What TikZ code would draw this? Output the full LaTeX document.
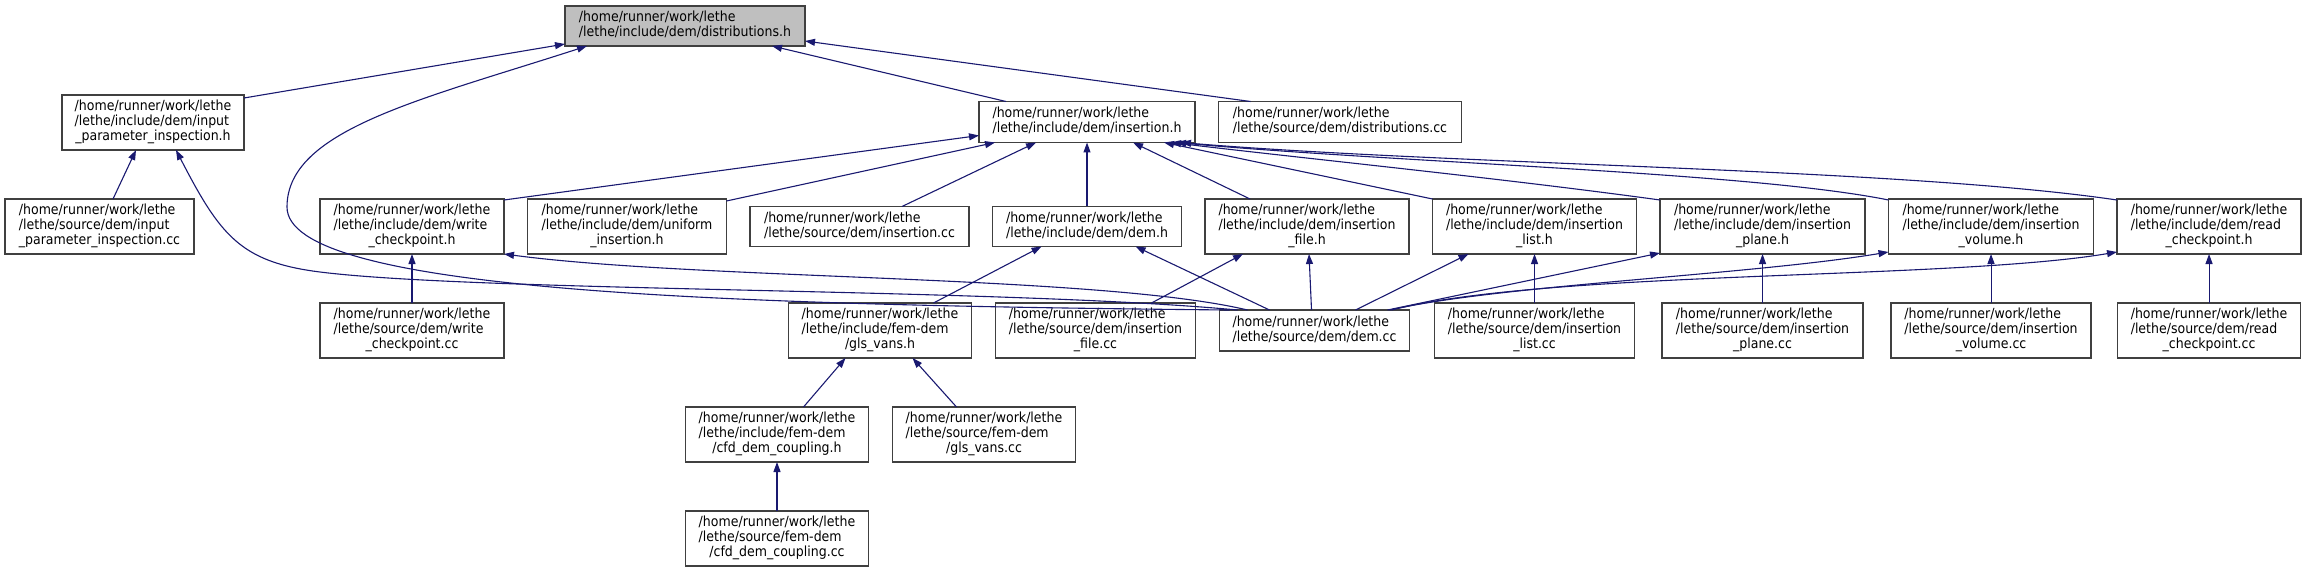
\documentclass[tikz,border=0pt]{standalone}
\usepackage{fontspec}
\newfontfamily\doxfont{DejaVu Sans Condensed}
\usepackage{tikz}
\usetikzlibrary{arrows.meta, positioning}

\definecolor{edgeblue}{RGB}{25,25,112}
\definecolor{rootgray}{RGB}{191,191,191}

% file labels: two lines, or three lines with the last one centred
\newcommand{\twoln}[2]{\begin{tabular}{@{}l@{}}#1\\#2\end{tabular}}
\newcommand{\threeln}[3]{\begin{tabular}{@{}l@{}}#1\\#2\\\multicolumn{1}{@{}c@{}}{#3}\end{tabular}}

\begin{document}
\begin{tikzpicture}[
    x=1bp, y=-1bp,
    node distance=49bp and 23.5bp,
    file/.style={rectangle, draw=black!75, line width=1.2bp, fill=white, inner sep=0pt, outer sep=0pt, minimum height=55bp, font=\doxfont\fontsize{14}{15}\selectfont},
    short/.style={file, minimum height=41bp},
    root/.style={short, fill=rootgray, minimum height=40bp},
    incl/.style={-{Triangle[length=10bp, width=7bp]}, draw=edgeblue, line width=1.1bp}
]
\useasboundingbox (0,0) rectangle (2306,572);

\node[root, minimum width=240bp] (disth) at (685,26) {\twoln{/home/runner/work/lethe}{/lethe/include/dem/distributions.h}};

% third row, left to right
\node[file, minimum width=189bp] (ipicc) at (99.5,226.5) {\threeln{/home/runner/work/lethe}{/lethe/source/dem/input}{\_parameter\_inspection.cc}};
\node[file, minimum width=184bp, right=126bp of ipicc] (wrh) {\threeln{/home/runner/work/lethe}{/lethe/include/dem/write}{\_checkpoint.h}};
\node[file, minimum width=199bp, right=of wrh] (unih) {\threeln{/home/runner/work/lethe}{/lethe/include/dem/uniform}{\_insertion.h}};
\node[short, minimum width=219bp, minimum height=40bp, right=of unih] (inscc) {\twoln{/home/runner/work/lethe}{/lethe/source/dem/insertion.cc}};
\node[short, minimum width=189bp, minimum height=40bp, right=of inscc] (demh) {\twoln{/home/runner/work/lethe}{/lethe/include/dem/dem.h}};
\node[file, minimum width=204bp, right=of demh] (fileh) {\threeln{/home/runner/work/lethe}{/lethe/include/dem/insertion}{\_file.h}};
\node[file, minimum width=204bp, right=of fileh] (lsth) {\threeln{/home/runner/work/lethe}{/lethe/include/dem/insertion}{\_list.h}};
\node[file, minimum width=205bp, right=of lsth] (plh) {\threeln{/home/runner/work/lethe}{/lethe/include/dem/insertion}{\_plane.h}};
\node[file, minimum width=205bp, right=of plh] (volh) {\threeln{/home/runner/work/lethe}{/lethe/include/dem/insertion}{\_volume.h}};
\node[file, minimum width=184bp, right=of volh] (rdh) {\threeln{/home/runner/work/lethe}{/lethe/include/dem/read}{\_checkpoint.h}};

% second row
\node[file, minimum width=182bp, above=of ipicc, xshift=53.5bp] (ipih) {\threeln{/home/runner/work/lethe}{/lethe/include/dem/input}{\_parameter\_inspection.h}};
\node[short, minimum width=216bp, above=64bp of demh] (insh) {\twoln{/home/runner/work/lethe}{/lethe/include/dem/insertion.h}};
\node[short, minimum width=243bp, right=of insh] (distcc) {\twoln{/home/runner/work/lethe}{/lethe/source/dem/distributions.cc}};

% fourth row
\node[file, minimum width=184bp, below=of wrh] (wrcc) {\threeln{/home/runner/work/lethe}{/lethe/source/dem/write}{\_checkpoint.cc}};
\node[file, minimum width=200bp, below=of lsth] (lstcc) {\threeln{/home/runner/work/lethe}{/lethe/source/dem/insertion}{\_list.cc}};
\node[short, minimum width=190bp, left=25bp of lstcc] (demcc) {\twoln{/home/runner/work/lethe}{/lethe/source/dem/dem.cc}};
\node[file, minimum width=200bp, left=24bp of demcc] (filecc) {\threeln{/home/runner/work/lethe}{/lethe/source/dem/insertion}{\_file.cc}};
\node[file, minimum width=183bp, left=24bp of filecc] (glsh) {\threeln{/home/runner/work/lethe}{/lethe/include/fem-dem}{/gls\_vans.h}};
\node[file, minimum width=201bp, below=of plh] (plcc) {\threeln{/home/runner/work/lethe}{/lethe/source/dem/insertion}{\_plane.cc}};
\node[file, minimum width=200bp, below=of volh] (volcc) {\threeln{/home/runner/work/lethe}{/lethe/source/dem/insertion}{\_volume.cc}};
\node[file, minimum width=183bp, below=of rdh] (rdcc) {\threeln{/home/runner/work/lethe}{/lethe/source/dem/read}{\_checkpoint.cc}};

% fem-dem files
\node[file, minimum width=183bp, below=of glsh, xshift=-103bp] (cfdh) {\threeln{/home/runner/work/lethe}{/lethe/include/fem-dem}{/cfd\_dem\_coupling.h}};
\node[file, minimum width=183bp, below=of glsh, xshift=104bp] (glscc) {\threeln{/home/runner/work/lethe}{/lethe/source/fem-dem}{/gls\_vans.cc}};
\node[file, minimum width=183bp, below=of cfdh] (cfdcc) {\threeln{/home/runner/work/lethe}{/lethe/source/fem-dem}{/cfd\_dem\_coupling.cc}};

% includes of distributions.h
\draw[incl] ([yshift=-3bp]ipih.north east) -- ([yshift=2bp]disth.south west);
\draw[incl] ([xshift=10bp]demcc.north west) .. controls (700,305) and (287,290) .. (287,207) .. controls (287,130) and (420,100) .. ([xshift=22bp]disth.south west);
\draw[incl] ([xshift=27bp]insh.north west) -- ([xshift=-33bp]disth.south east);
\draw[incl] ([xshift=32bp]distcc.north west) -- ([yshift=5bp]disth.south east);

% includes of input_parameter_inspection.h
\draw[incl] ([xshift=108bp]ipicc.north west) -- ([xshift=74bp]ipih.south west);
\draw[incl] ([xshift=18bp]demcc.north west) .. controls (1000,288) and (480,292) .. (320,272) .. controls (240,262) and (220,235) .. ([xshift=114bp]ipih.south west);

% includes of insertion.h
\draw[incl] ([yshift=-1bp]wrh.north east) -- ([yshift=7bp]insh.south west);
\draw[incl] ([yshift=-2bp]unih.north east) -- ([xshift=16bp]insh.south west);
\draw[incl] ([xshift=152bp]inscc.north west) -- ([xshift=57bp]insh.south west);
\draw[incl] (demh.north) -- (demh.north |- insh.south);
\draw[incl] ([xshift=45bp]fileh.north west) -- ([xshift=-62bp]insh.south east);
\draw[incl] (lsth.north west) -- ([xshift=-31bp]insh.south east);
\draw[incl] ([yshift=-1bp]plh.north west) .. controls (1500,178) and (1300,158) .. ([xshift=-24bp]insh.south east);
\draw[incl] ([yshift=-1bp]volh.north west) .. controls (1750,172) and (1400,163) .. ([xshift=-19bp]insh.south east);
\draw[incl] ([yshift=-1bp]rdh.north west) .. controls (1900,168) and (1450,165) .. ([xshift=-14bp]insh.south east);

% includes of the third row
\draw[incl] (wrcc.north) -- (wrh.south);
\draw[incl] ([xshift=28bp]demcc.north west) .. controls (1100,275) and (700,280) .. (wrh.south east);
\draw[incl] ([xshift=145bp]glsh.north west) -- ([xshift=49bp]demh.south west);
\draw[incl] ([xshift=50bp]demcc.north west) -- ([xshift=-46bp]demh.south east);
\draw[incl] ([xshift=156bp]filecc.north west) -- ([xshift=38bp]fileh.south west);
\draw[incl] ([xshift=92bp]demcc.north west) -- ([xshift=104bp]fileh.south west);
\draw[incl] ([xshift=136bp]demcc.north west) -- ([xshift=36bp]lsth.south west);
\draw[incl] (lsth.south |- lstcc.north) -- (lsth.south);
\draw[incl] ([xshift=-22bp]demcc.north east) -- ([yshift=1bp]plh.south west);
\draw[incl] (plcc.north) -- (plh.south);
\draw[incl] ([xshift=-20bp]demcc.north east) .. controls (1500,285) and (1750,275) .. ([yshift=2bp]volh.south west);
\draw[incl] (volcc.north) -- (volh.south);
\draw[incl] ([xshift=-18bp]demcc.north east) .. controls (1550,270) and (1950,280) .. ([yshift=2bp]rdh.south west);
\draw[incl] (rdcc.north) -- (rdh.south);

% gls_vans.h and cfd_dem_coupling.h
\draw[incl] ([xshift=118bp]cfdh.north west) -- ([xshift=57bp]glsh.south west);
\draw[incl] ([xshift=64bp]glscc.north west) -- ([xshift=124bp]glsh.south west);
\draw[incl] (cfdcc.north) -- (cfdh.south);

\end{tikzpicture}
\end{document}
